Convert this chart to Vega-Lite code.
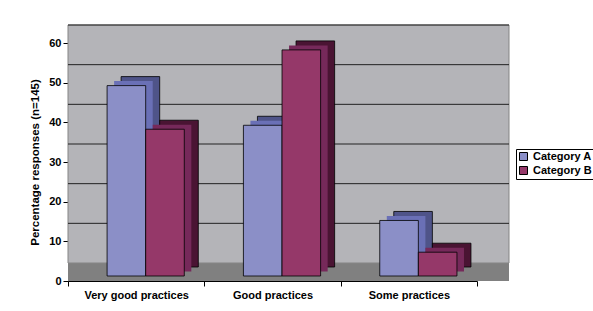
{
  "$schema": "https://vega.github.io/schema/vega-lite/v6.json",
  "width": 409,
  "height": 238,
  "autosize": "none",
  "padding": {"left": 68, "top": 43, "right": 116, "bottom": 30},
  "background": "white",
  "config": {
    "view": {"fill": "#c4c4c4", "stroke": null},
    "font": "Liberation Sans",
    "axisX": {
      "title": null, "labelAngle": 0, "labelFont": "Liberation Sans", "labelFontWeight": "bold",
      "labelFontSize": 11, "labelColor": "black", "labelPadding": 3, "tickBand": "extent",
      "tickSize": 5, "tickColor": "black", "domainColor": "black", "grid": false
    },
    "axisY": {
      "titleFont": "Liberation Sans", "titleFontWeight": "bold",
      "titleFontSize": 11.5, "titleColor": "black", "titlePadding": 8,
      "labelFont": "Liberation Sans", "labelFontWeight": "bold",
      "labelFontSize": 11, "labelColor": "black", "labelPadding": 2, "tickSize": 5,
      "tickColor": "black", "domainColor": "black", "grid": false
    }
  },
  "datasets": {
    "bars": [
      {"cat": "Very good practices", "series": "Category A", "value": 48},
      {"cat": "Very good practices", "series": "Category B", "value": 37},
      {"cat": "Good practices", "series": "Category A", "value": 38},
      {"cat": "Good practices", "series": "Category B", "value": 57},
      {"cat": "Some practices", "series": "Category A", "value": 14},
      {"cat": "Some practices", "series": "Category B", "value": 6}
    ],
    "grid": [{"v": 10}, {"v": 20}, {"v": 30}, {"v": 40}, {"v": 50}, {"v": 60}],
    "one": [{}]
  },
  "resolve": {"scale": {"xOffset": "independent"}},
  "layer": [
    {
      "data": {"name": "one"},
      "mark": {"type": "rect", "fill": "#808080"},
      "encoding": {
        "y": {"datum": 0, "type": "quantitative", "scale": {"domain": [0, 60], "nice": false, "zero": true}, "axis": {"title": "Percentage responses (n=145)", "values": [0, 10, 20, 30, 40, 50, 60]}},
        "y2": {"datum": 4.54}
      }
    },
    {
      "data": {"name": "one"},
      "mark": {"type": "rect", "fill": "#808080", "xOffset": 32, "x2Offset": 32},
      "encoding": {
        "y": {"datum": 0, "type": "quantitative", "axis": {"title": "Percentage responses (n=145)", "values": [0, 10, 20, 30, 40, 50, 60]}},
        "y2": {"datum": 4.54}
      }
    },
    {
      "data": {"name": "one"},
      "mark": {"type": "rect", "fill": "#b4b4b8", "stroke": "#858585", "strokeWidth": 1, "xOffset": 32, "x2Offset": 32, "yOffset": -18, "y2Offset": -18},
      "encoding": {
        "y": {"datum": 0, "type": "quantitative", "axis": {"title": "Percentage responses (n=145)", "values": [0, 10, 20, 30, 40, 50, 60]}},
        "y2": {"datum": 60}
      }
    },
    {
      "data": {"name": "grid"},
      "mark": {"type": "rule", "color": "#222222", "strokeWidth": 1, "xOffset": 32, "x2Offset": 32, "yOffset": -18, "y2Offset": -18},
      "encoding": {
        "y": {"field": "v", "type": "quantitative", "axis": {"title": "Percentage responses (n=145)", "values": [0, 10, 20, 30, 40, 50, 60]}}
      }
    },
    {
      "data": {"name": "bars"},
      "mark": {"type": "bar", "stroke": "black", "strokeWidth": 0.8, "yOffset": -14, "y2Offset": -14},
      "encoding": {
        "x": {"field": "cat", "type": "nominal", "sort": ["Very good practices", "Good practices", "Some practices"], "scale": {"paddingInner": 0, "paddingOuter": 0}, "axis": {"title": null}},
        "xOffset": {"field": "series", "type": "nominal", "sort": ["Category A", "Category B"], "scale": {"paddingInner": 0, "paddingOuter": 0.766, "align": 0.898}},
        "y": {"field": "value", "type": "quantitative", "axis": {"title": "Percentage responses (n=145)", "values": [0, 10, 20, 30, 40, 50, 60]}},
        "fill": {"condition": {"test": "datum.series === 'Category A'", "value": "#4f5489"}, "value": "#4a1433"}
      }
    },
    {
      "data": {"name": "bars"},
      "mark": {"type": "bar", "strokeWidth": 0, "yOffset": -9.5, "y2Offset": -9.5},
      "encoding": {
        "x": {"field": "cat", "type": "nominal", "sort": ["Very good practices", "Good practices", "Some practices"], "axis": {"title": null}},
        "xOffset": {"field": "series", "type": "nominal", "sort": ["Category A", "Category B"], "scale": {"paddingInner": 0, "paddingOuter": 0.766, "align": 0.78}},
        "y": {"field": "value", "type": "quantitative", "axis": {"title": "Percentage responses (n=145)", "values": [0, 10, 20, 30, 40, 50, 60]}},
        "fill": {"condition": {"test": "datum.series === 'Category A'", "value": "#6a70b6"}, "value": "#76295a"}
      }
    },
    {
      "data": {"name": "bars"},
      "mark": {"type": "bar", "stroke": "black", "strokeWidth": 0.8, "yOffset": -5, "y2Offset": -5},
      "encoding": {
        "x": {"field": "cat", "type": "nominal", "sort": ["Very good practices", "Good practices", "Some practices"], "axis": {"title": null}},
        "xOffset": {"field": "series", "type": "nominal", "sort": ["Category A", "Category B"], "scale": {"paddingInner": 0, "paddingOuter": 0.766, "align": 0.661}},
        "y": {"field": "value", "type": "quantitative", "axis": {"title": "Percentage responses (n=145)", "values": [0, 10, 20, 30, 40, 50, 60]}},
        "color": {
          "field": "series", "type": "nominal",
          "scale": {"domain": ["Category A", "Category B"], "range": ["#8b8fc7", "#953869"]},
          "legend": {
            "title": null, "orient": "none", "legendX": 448, "legendY": 106,
            "strokeColor": "black", "fillColor": "white", "padding": 2,
            "symbolType": "square", "symbolSize": 64, "symbolStrokeColor": "black", "symbolStrokeWidth": 1,
            "labelFont": "Liberation Sans", "labelFontWeight": "bold", "labelFontSize": 11, "labelColor": "black",
            "rowPadding": 1, "labelOffset": 4
          }
        }
      }
    }
  ]
}
